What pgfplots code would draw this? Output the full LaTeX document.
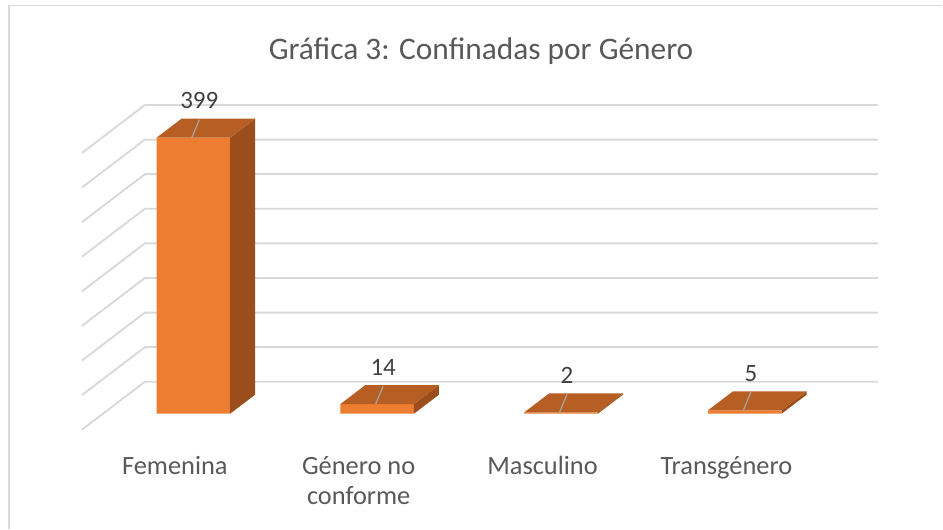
\documentclass[border=0pt]{standalone}
\usepackage{pgfplots}
\pgfplotsset{compat=1.18}
\usepackage{pgfplotstable}
\usepackage{fontspec}
\setmainfont{Carlito}
\definecolor{frontc}{HTML}{ED7D31}
\definecolor{topc}{HTML}{B65E23}
\definecolor{sidec}{HTML}{9B4E1C}
\definecolor{gridc}{HTML}{D9D9D9}
\definecolor{txtc}{HTML}{595959}
\definecolor{lblc}{HTML}{404040}
\definecolor{leadc}{HTML}{A6A6A6}

\pgfplotstableread{
x v
0 399
1 14
2 2
3 5
}\datatable

\begin{document}
\begin{tikzpicture}
\begin{axis}[
  x=184pt, y=0.6925pt,
  xmin=-1.05163, xmax=4.07337, ymin=-166.06, ymax=597.83,
  axis line style={draw=none},
  ytick=\empty,
  xtick={0,1,2,3},
  xticklabels={Femenina, {Género no\\conforme}, Masculino, Transgénero},
  xticklabel style={align=center, font=\fontsize{26.4}{30}\selectfont, text=txtc, anchor=north, yshift=76pt, xshift=-18.5pt},
  major tick length=0pt,
  clip=false,
  /pgf/number format/assume math mode=true,
]
% border
\draw[gridc, line width=1.7pt] (axis cs:-1.0027,-166.06) -- (axis cs:-1.0027,589.9) -- (axis cs:4.07337,589.9);
% title
\node[font=\fontsize{31.4}{36}\selectfont, text=txtc, anchor=base] at (axis cs:1.565,512.6) {Gráfica 3: Confinadas por Género};
% gridlines (back wall and side wall)
\pgfplotsinvokeforeach{0,50,100,150,200,250,300,350,400}{%
  \pgfmathsetmacro\myya{#1-23.1}%
  \pgfmathsetmacro\myyb{#1+46.2}%
  \edef\mytmp{\noexpand\draw[gridc, line width=1.9pt, line join=round] (axis cs:-0.606,\myya) -- (axis cs:-0.2636,\myyb) -- (axis cs:3.7255,\myyb);}%
  \mytmp
}
% front faces
\addplot[ybar, bar width=0.4, bar shift=0pt, fill=frontc, draw=none,
  nodes near coords,
  every node near coord/.append style={anchor=center, xshift=6pt, yshift=37pt, font=\fontsize{25}{30}\selectfont, text=lblc}]
  table[x=x, y=v]{\datatable};
% top and side faces, leader lines
\pgfplotsinvokeforeach{0,1,2,3}{%
  \pgfplotstablegetelem{#1}{v}\of\datatable
  \let\myval\pgfplotsretval
  \pgfmathsetmacro\myxl{#1-0.2}%
  \pgfmathsetmacro\myxr{#1+0.2}%
  \pgfmathsetmacro\myxlb{#1-0.2+0.1359}%
  \pgfmathsetmacro\myxrb{#1+0.2+0.1359}%
  \pgfmathsetmacro\myvb{\myval+27.44}%
  \pgfmathsetmacro\mylx{#1+0.0326}%
  \pgfmathsetmacro\myly{\myval+26}%
  \pgfmathsetmacro\mybx{#1-0.008}%
  \edef\mytmp{%
   \noexpand\fill[sidec] (axis cs:\myxr,0) -- (axis cs:\myxrb,27.44) -- (axis cs:\myxrb,\myvb) -- (axis cs:\myxr,\myval) -- cycle;
   \noexpand\fill[topc] (axis cs:\myxl,\myval) -- (axis cs:\myxr,\myval) -- (axis cs:\myxrb,\myvb) -- (axis cs:\myxlb,\myvb) -- cycle;
   \noexpand\draw[leadc, line width=1.2pt] (axis cs:\mylx,\myly) -- (axis cs:\mybx,\myval);
  }\mytmp
}
\end{axis}
\end{tikzpicture}
\end{document}
